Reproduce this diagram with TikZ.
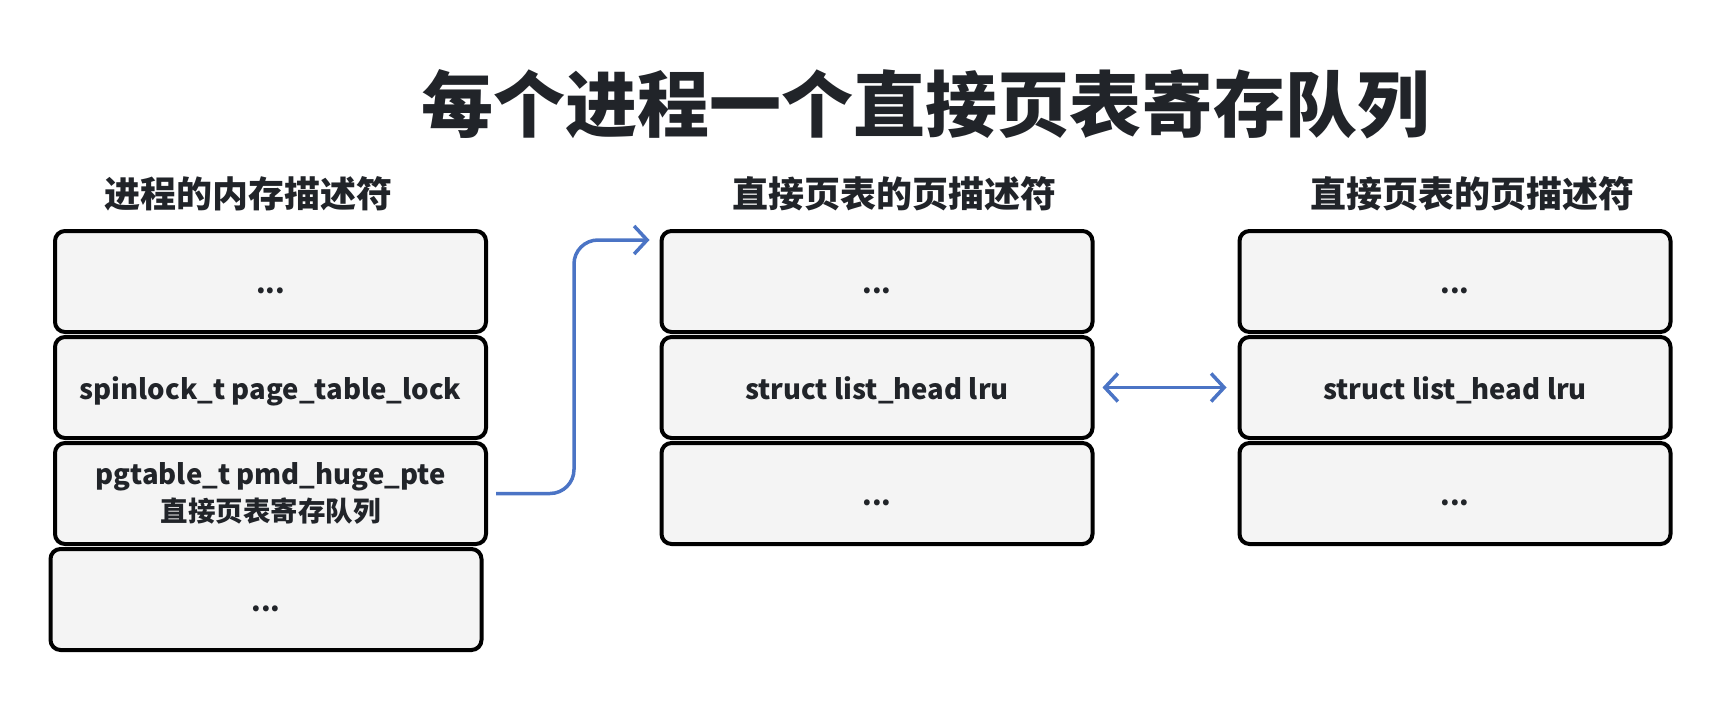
\documentclass[tikz,border=0pt]{standalone}
\usepackage{fontspec}
\setmainfont{Noto Sans CJK SC}
\usepackage{xcolor}
\usetikzlibrary{arrows.meta, positioning}
\definecolor{ink}{HTML}{212429}
\definecolor{slotfill}{HTML}{F4F4F4}
\definecolor{linkblue}{HTML}{4B74C5}
\tikzset{
	cell/.style={draw=black, line width=4pt, fill=slotfill, rounded corners=10pt, minimum width=431pt, minimum height=101pt, inner sep=0pt, outer sep=0pt, align=center, text=ink, font=\bfseries\fontsize{27.5}{37}\selectfont},
	slot/.style={cell, text height=27pt, text depth=4pt},
	link/.style={draw=linkblue, line width=3.5pt, rounded corners=24pt, >={Straight Barb[length=13pt,width=28pt]}}
}

\begin{document}
\begin{tikzpicture}[x=1pt, y=-1pt,
	hdr/.style={text=ink, font=\bfseries\fontsize{36}{40}\selectfont, inner sep=0pt},
	ttl/.style={text=ink, font=\bfseries\fontsize{72}{80}\selectfont, inner sep=0pt},
	node distance=5pt]
	\useasboundingbox (0,0) rectangle (1722,702);
	\node[ttl] (title) at (925,104) {每个进程一个直接页表寄存队列};
	\node[hdr] (mmhdr) at (248.5,194) {进程的内存描述符};
	\node[hdr] (pahdr) at (894.5,194) {直接页表的页描述符};
	\node[hdr] (pbhdr) at (1472,194) {直接页表的页描述符};
	\node[slot] (mm1) at (270.5,281.5) {...};
	\node[slot, below=of mm1] (mm2) {spinlock\_t page\_table\_lock};
	\node[cell, below=of mm2] (mm3) {pgtable\_t pmd\_huge\_pte\\直接页表寄存队列};
	\node[slot, below=of mm3, xshift=-4.5pt] (mm4) {...};
	\node[slot] (pa1) at (877,281.5) {...};
	\node[slot, below=of pa1] (pa2) {struct list\_head lru};
	\node[slot, below=of pa2] (pa3) {...};
	\node[slot] (pb1) at (1455,281.5) {...};
	\node[slot, below=of pb1] (pb2) {struct list\_head lru};
	\node[slot, below=of pb2] (pb3) {...};
	\draw[link, ->] ([xshift=10pt]mm3.east) -- ++(78,0) |- ([xshift=-12pt,yshift=-9pt]pa1.north west);
	\draw[link, <->] ([xshift=10pt]pa2.east) -- ([xshift=-13pt]pb2.west);
\end{tikzpicture}
\end{document}
